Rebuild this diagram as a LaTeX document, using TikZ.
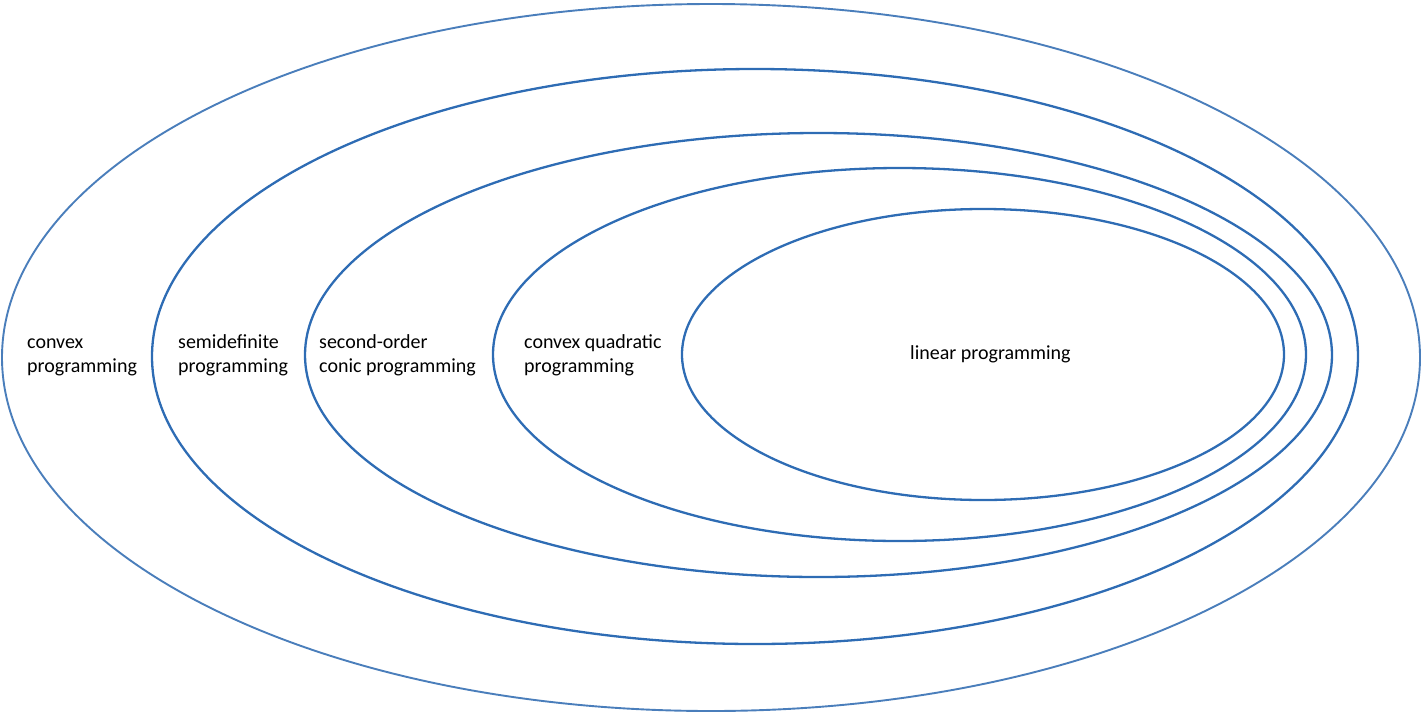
\documentclass[tikz,border=0pt]{standalone}
\usepackage{fontspec}
\setmainfont{Carlito}
\begin{document}
\begin{tikzpicture}[x=1pt,y=-1pt,
  outerset/.style={draw={rgb,255:red,74;green,126;blue,187}, line width=1.9pt},
  innerset/.style={draw={rgb,255:red,46;green,108;blue,180}, line width=2.3pt},
  setlabel/.style={anchor=base west, align=left, inner sep=0pt,
    font=\fontsize{20}{24}\selectfont, text=black}]
\useasboundingbox (0,0) rectangle (1425,713);
\path[outerset] (711,357.5) ellipse [x radius=709, y radius=353.5];
\path[innerset] (755,356.5) ellipse [x radius=603, y radius=287.5];
\path[innerset] (818.5,355) ellipse [x radius=513.5, y radius=222];
\path[innerset] (899.5,354.5) ellipse [x radius=406.5, y radius=186.5];
\path[innerset] (983,354.5) ellipse [x radius=301, y radius=145.5];
\node[setlabel] (cp) at (27,372) {convex\\programming};
\node[setlabel] (sdp) at (178,372) {semidefinite\\programming};
\node[setlabel] (socp) at (319,372) {second-order\\conic programming};
\node[setlabel] (cqp) at (524,372) {convex quadratic\\programming};
\node[setlabel] (lp) at (910,359) {linear programming};
\end{tikzpicture}
\end{document}
